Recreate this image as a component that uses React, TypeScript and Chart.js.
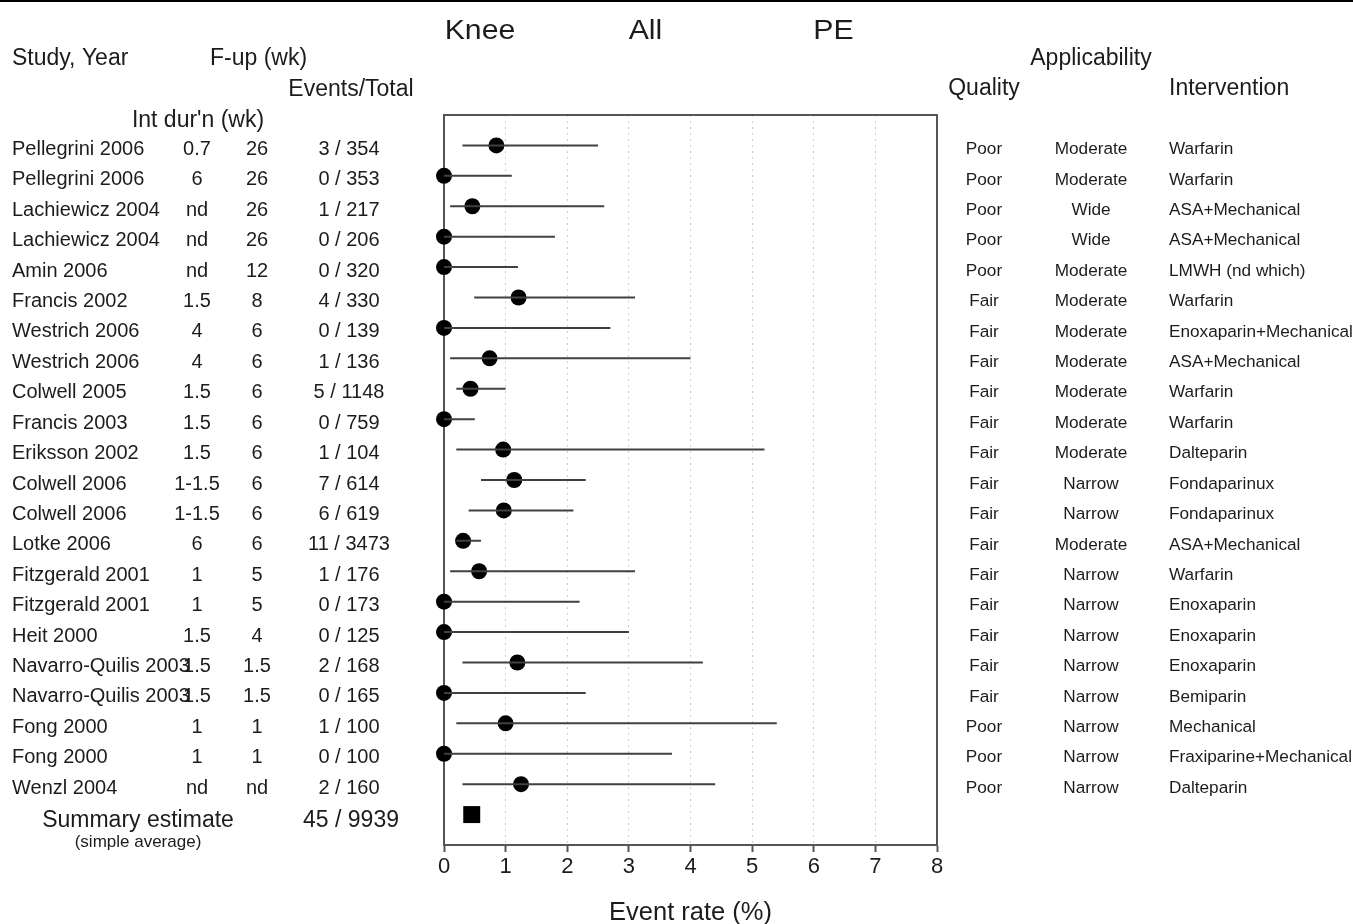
import React, { useEffect, useRef } from "react";
import { Chart, registerables } from "chart.js";

Chart.register(...registerables);

const FONT = "'Liberation Sans', Arial, Helvetica, sans-serif";
const TEXT = "#1c1c1c";

const studies = [
  "Pellegrini 2006", "Pellegrini 2006", "Lachiewicz 2004", "Lachiewicz 2004", "Amin 2006",
  "Francis 2002", "Westrich 2006", "Westrich 2006", "Colwell 2005", "Francis 2003",
  "Eriksson 2002", "Colwell 2006", "Colwell 2006", "Lotke 2006", "Fitzgerald 2001",
  "Fitzgerald 2001", "Heit 2000", "Navarro-Quilis 2003", "Navarro-Quilis 2003", "Fong 2000",
  "Fong 2000", "Wenzl 2004",
];
const intDuration = [
  "0.7", "6", "nd", "nd", "nd", "1.5", "4", "4", "1.5", "1.5", "1.5",
  "1-1.5", "1-1.5", "6", "1", "1", "1.5", "1.5", "1.5", "1", "1", "nd",
];
const followUp = [
  "26", "26", "26", "26", "12", "8", "6", "6", "6", "6", "6",
  "6", "6", "6", "5", "5", "4", "1.5", "1.5", "1", "1", "nd",
];
const eventsTotal = [
  "3 / 354", "0 / 353", "1 / 217", "0 / 206", "0 / 320", "4 / 330", "0 / 139", "1 / 136",
  "5 / 1148", "0 / 759", "1 / 104", "7 / 614", "6 / 619", "11 / 3473", "1 / 176", "0 / 173",
  "0 / 125", "2 / 168", "0 / 165", "1 / 100", "0 / 100", "2 / 160",
];
const quality = [
  "Poor", "Poor", "Poor", "Poor", "Poor", "Fair", "Fair", "Fair", "Fair", "Fair", "Fair",
  "Fair", "Fair", "Fair", "Fair", "Fair", "Fair", "Fair", "Fair", "Poor", "Poor", "Poor",
];
const applicability = [
  "Moderate", "Moderate", "Wide", "Wide", "Moderate", "Moderate", "Moderate", "Moderate",
  "Moderate", "Moderate", "Moderate", "Narrow", "Narrow", "Moderate", "Narrow", "Narrow",
  "Narrow", "Narrow", "Narrow", "Narrow", "Narrow", "Narrow",
];
const intervention = [
  "Warfarin", "Warfarin", "ASA+Mechanical", "ASA+Mechanical", "LMWH (nd which)", "Warfarin",
  "Enoxaparin+Mechanical", "ASA+Mechanical", "Warfarin", "Warfarin", "Dalteparin",
  "Fondaparinux", "Fondaparinux", "ASA+Mechanical", "Warfarin", "Enoxaparin", "Enoxaparin",
  "Enoxaparin", "Bemiparin", "Mechanical", "Fraxiparine+Mechanical", "Dalteparin",
];
const eventRate = [
  0.85, 0, 0.46, 0, 0, 1.21, 0, 0.74, 0.43, 0, 0.96,
  1.14, 0.97, 0.31, 0.57, 0, 0, 1.19, 0, 1.0, 0, 1.25,
];
const ciLower = [
  0.3, 0, 0.1, 0, 0, 0.49, 0, 0.1, 0.2, 0, 0.2,
  0.6, 0.4, 0.2, 0.1, 0, 0, 0.3, 0, 0.2, 0, 0.3,
];
const ciUpper = [
  2.5, 1.1, 2.6, 1.8, 1.2, 3.1, 2.7, 4.0, 1.0, 0.5, 5.2,
  2.3, 2.1, 0.6, 3.1, 2.2, 3.0, 4.2, 2.3, 5.4, 3.7, 4.4,
];
const summaryRate = 0.45;
const summaryEvents = "45 / 9939";
const xTicks = [0, 1, 2, 3, 4, 5, 6, 7, 8];

const n = studies.length;
const rowY = (i: number) => n - i; // first study at top

function txt(
  ctx: CanvasRenderingContext2D,
  s: string,
  x: number,
  y: number,
  size: number,
  align: CanvasTextAlign,
  sx = 1
) {
  ctx.save();
  ctx.font = `${size}px ${FONT}`;
  ctx.textAlign = align;
  ctx.textBaseline = "middle";
  ctx.fillStyle = TEXT;
  ctx.translate(x, y);
  ctx.scale(sx, 1);
  ctx.fillText(s, 0, 0);
  ctx.restore();
}

const forestPlugin = {
  id: "forestTable",
  beforeDraw(chart: any) {
    const ctx = chart.ctx as CanvasRenderingContext2D;
    ctx.save();
    ctx.fillStyle = "#ffffff";
    ctx.fillRect(0, 0, chart.width, chart.height);
    ctx.fillStyle = "#000000";
    ctx.fillRect(0, 0, chart.width, 2);
    ctx.restore();
  },
  beforeDatasetsDraw(chart: any) {
    const ctx = chart.ctx as CanvasRenderingContext2D;
    const a = chart.chartArea;
    ctx.save();
    ctx.strokeStyle = "#555555";
    ctx.lineWidth = 2;
    ctx.strokeRect(a.left, a.top, a.right - a.left, a.bottom - a.top);
    ctx.restore();
  },
  afterDraw(chart: any) {
    const ctx = chart.ctx as CanvasRenderingContext2D;
    const ys = chart.scales.y;
    // Titles
    txt(ctx, "Knee", 480, 31, 28, "center", 1.08);
    txt(ctx, "All", 645.5, 31, 28, "center", 1.08);
    txt(ctx, "PE", 833.5, 31, 28, "center", 1.08);
    // Headers
    txt(ctx, "Study, Year", 12, 58.5, 23, "left");
    txt(ctx, "F-up (wk)", 258.5, 58.5, 23, "center");
    txt(ctx, "Events/Total", 351, 89.5, 23, "center");
    txt(ctx, "Int dur'n (wk)", 198, 120.5, 23, "center");
    txt(ctx, "Applicability", 1091, 59, 23, "center");
    txt(ctx, "Quality", 984, 89, 23, "center");
    txt(ctx, "Intervention", 1169, 89, 23, "left");
    // Rows
    for (let i = 0; i < n; i++) {
      const y = ys.getPixelForValue(rowY(i)) + 4;
      txt(ctx, studies[i], 12, y, 20, "left");
      txt(ctx, intDuration[i], 197, y, 20, "center");
      txt(ctx, followUp[i], 257, y, 20, "center");
      txt(ctx, eventsTotal[i], 349, y, 20, "center");
      txt(ctx, quality[i], 984, y, 17.2, "center");
      txt(ctx, applicability[i], 1091, y, 17.2, "center");
      txt(ctx, intervention[i], 1169, y, 17.2, "left");
    }
    const sy = ys.getPixelForValue(0) + 6;
    txt(ctx, "Summary estimate", 138, sy, 23, "center");
    txt(ctx, "(simple average)", 138, sy + 22, 17, "center");
    txt(ctx, summaryEvents, 351, sy, 23, "center");
  },
};

export default function App() {
  const ref = useRef<HTMLCanvasElement | null>(null);

  useEffect(() => {
    if (!ref.current) return;
    const ciData: any[] = [];
    for (let i = 0; i < n; i++) {
      ciData.push({ x: ciLower[i], y: rowY(i) });
      ciData.push({ x: ciUpper[i], y: rowY(i) });
      ciData.push({ x: null, y: null });
    }
    const pointData = eventRate.map((v, i) => ({ x: v, y: rowY(i) }));

    const chart = new Chart(ref.current, {
      type: "scatter",
      data: {
        datasets: [
          {
            label: "CI",
            data: ciData,
            showLine: true,
            spanGaps: false,
            borderColor: "#404040",
            borderWidth: 2,
            pointRadius: 0,
            fill: false,
            clip: false,
          } as any,
          {
            label: "Event rate",
            data: pointData,
            backgroundColor: "#000000",
            borderWidth: 0,
            pointRadius: 8,
            pointStyle: "circle",
            clip: false,
          } as any,
          {
            label: "Summary",
            data: [{ x: summaryRate, y: 0 }],
            backgroundColor: "#000000",
            borderWidth: 0,
            pointRadius: 12,
            pointStyle: "rect",
            clip: false,
          } as any,
        ],
      },
      options: {
        animation: false,
        responsive: false,
        maintainAspectRatio: false,
        devicePixelRatio: 1,
        events: [],
        layout: { padding: { left: 444, right: 416, top: 115, bottom: 0 } },
        plugins: {
          legend: { display: false },
          tooltip: { enabled: false },
          title: { display: false },
        },
        scales: {
          x: {
            type: "linear",
            position: "bottom",
            min: 0,
            max: 8,
            afterFit: (scale: any) => {
              scale.height = 79;
            },
            afterBuildTicks: (scale: any) => {
              scale.ticks = xTicks.map((v) => ({ value: v }));
            },
            ticks: {
              color: TEXT,
              font: { size: 22, family: FONT, lineHeight: 1 },
              padding: 4,
              maxRotation: 0,
              autoSkip: false,
            },
            grid: {
              display: true,
              drawOnChartArea: true,
              drawTicks: true,
              tickLength: 7,
              color: "#cfcfcf",
              lineWidth: 1,
              tickColor: "#555555",
              tickWidth: 2,
              tickBorderDash: [],
            },
            border: { display: true, color: "#555555", width: 2, dash: [2, 4] },
            title: {
              display: true,
              text: "Event rate (%)",
              color: TEXT,
              font: { size: 25.5, family: FONT, lineHeight: 1 },
              padding: { top: 0, bottom: -2 },
            },
          },
          y: {
            type: "linear",
            min: -1,
            max: n + 1,
            display: false,
          },
        },
      },
      plugins: [forestPlugin],
    });
    return () => chart.destroy();
  }, []);

  return (
    <div
      style={{
        position: "absolute",
        left: 0,
        top: 0,
        width: 1353,
        height: 924,
        background: "#ffffff",
      }}
    >
      <canvas ref={ref} width={1353} height={924} style={{ display: "block" }} />
    </div>
  );
}
